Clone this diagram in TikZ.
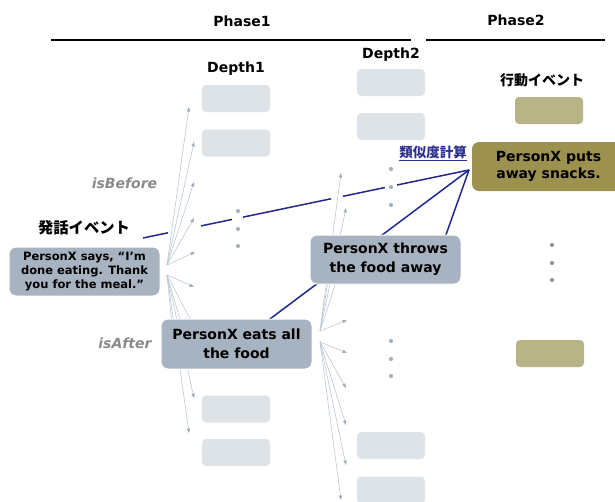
\documentclass[tikz,border=0pt]{standalone}
\usepackage{fontspec}
\setmainfont{DejaVu Sans}
\newfontfamily\jp{Noto Sans CJK JP}
\usetikzlibrary{arrows.meta,calc}
\definecolor{lgray}{HTML}{DEE3E8}
\definecolor{ngray}{HTML}{A7B3C0}
\definecolor{oliveD}{HTML}{9D9150}
\definecolor{oliveL}{HTML}{B9B388}
\definecolor{navy}{HTML}{1F2A8C}
\definecolor{bluetxt}{HTML}{2B2E8F}
\definecolor{fanc}{HTML}{BDC7D2}
\definecolor{fanh}{HTML}{9FABBA}
\definecolor{dotc}{HTML}{A8B2BD}
\definecolor{dotd}{HTML}{8F959B}
\definecolor{lbl}{HTML}{8A8A8A}
\begin{document}
\begin{tikzpicture}[x=1pt,y=-1pt,
  lightbox/.style={fill=lgray, rounded corners=4pt, minimum width=68pt, minimum height=27pt, inner sep=0pt},
  olivebox/.style={fill=oliveL, rounded corners=4pt, minimum width=68pt, minimum height=27pt, inner sep=0pt},
  event/.style={fill=ngray, draw=white, line width=1pt, rounded corners=7pt, align=center, inner sep=0pt,
    font=\bfseries\fontsize{14}{19}\selectfont},
  fan/.style={draw=fanc, line width=0.6pt, -{Triangle[length=4.5pt,width=3.2pt,color=fanh]}},
  blueline/.style={draw=navy, line width=1.5pt},
  dot/.style={circle, fill=dotc, minimum size=4.2pt, inner sep=0pt},
  ddot/.style={circle, fill=dotd, minimum size=4.2pt, inner sep=0pt},
  head/.style={font=\bfseries\fontsize{14}{16}\selectfont},
  jphead/.style={font=\jp\bfseries\fontsize{14}{16}\selectfont},
  rel/.style={font=\bfseries\itshape\fontsize{14}{16}\selectfont, text=lbl}
]
\useasboundingbox (0,0) rectangle (615,501);

% headers
\node[head] (ph1) at (242,21) {Phase1};
\node[head] (ph2) at (516,20) {Phase2};
\coordinate (r1a) at (51,40); \coordinate (r1b) at (411,40);
\coordinate (r2a) at (426,40); \coordinate (r2b) at (605,40);
\draw[line width=1.2pt] (r1a) -- (r1b);
\draw[line width=1.2pt] (r2a) -- (r2b);
\node[head] (dp1) at (236,69) {Depth1};
\node[head] (dp2) at (391,55) {Depth2};
\node[jphead] (act) at (542,80) {行動イベント};

% light boxes
\node[lightbox] (a1) at (236,98.5) {};
\node[lightbox] (a2) at (236,143) {};
\node[lightbox] (a3) at (236,409) {};
\node[lightbox] (a4) at (236,452.5) {};
\node[lightbox] (b1) at (391,82.5) {};
\node[lightbox] (b2) at (391,126.5) {};
\node[lightbox] (b3) at (391,445.5) {};
\node[lightbox] (b4) at (391,490) {};
\node[olivebox] (c1) at (549,110.5) {};
\node[olivebox] (c2) at (550,353.5) {};

% dots
\node[dot] (d11) at (238,211) {};
\node[dot] (d12) at (238,229) {};
\node[dot] (d13) at (238,246) {};
\node[dot] (d21) at (391,169) {};
\node[dot] (d22) at (391,187) {};
\node[dot] (d23) at (391,205) {};
\node[dot] (d31) at (391,341) {};
\node[dot] (d32) at (391,359) {};
\node[dot] (d33) at (391,376) {};
\node[ddot] (d41) at (552,245) {};
\node[ddot] (d42) at (552,263) {};
\node[ddot] (d43) at (552,280) {};

% fan 1
\coordinate (o1) at (167,265);
\coordinate (o2) at (167,275);
\coordinate (t1) at (189,107);
\coordinate (t2) at (194,142);
\coordinate (t3) at (194,182);
\coordinate (t4) at (194,218);
\coordinate (t5) at (195,252);
\draw[fan] (o1) -- (t1);
\draw[fan] (o1) -- (t2);
\draw[fan] (o1) -- (t3);
\draw[fan] (o1) -- (t4);
\draw[fan] (o1) -- (t5);
\coordinate (u1) at (194,287);
\coordinate (u2) at (174,345);
\coordinate (u3) at (186,340);
\coordinate (u4) at (197,332);
\coordinate (u5) at (194,398);
\coordinate (u6) at (189,433);
\draw[fan] (o2) -- (u1);
\draw[fan] (o2) -- (u2);
\draw[fan] (o2) -- (u3);
\draw[fan] (o2) -- (u4);
\draw[fan] (o2) -- (u5);
\draw[fan] (o2) -- (u6);
% fan 2
\coordinate (o3) at (320,331);
\coordinate (o4) at (320,342);
\coordinate (v1) at (341,173);
\coordinate (v2) at (346,208);
\coordinate (v3) at (331,262);
\coordinate (v4) at (340,270);
\coordinate (v5) at (347,320);
\draw[fan] (o3) -- (v1);
\draw[fan] (o3) -- (v2);
\draw[fan] (o3) -- (v3);
\draw[fan] (o3) -- (v4);
\draw[fan] (o3) -- (v5);
\coordinate (w1) at (347,353);
\coordinate (w2) at (346,388);
\coordinate (w3) at (346,425);
\coordinate (w4) at (346,465);
\coordinate (w5) at (341,500);
\draw[fan] (o4) -- (w1);
\draw[fan] (o4) -- (w2);
\draw[fan] (o4) -- (w3);
\draw[fan] (o4) -- (w4);
\draw[fan] (o4) -- (w5);

% similarity lines
\coordinate (apex) at (469,170);
\coordinate (ls) at (143,238);
\coordinate (lt) at (437,260);
\draw[blueline] (ls) -- ($(ls)!0.0767!(apex)$);
\draw[blueline] ($(ls)!0.178!(apex)$) -- ($(ls)!0.273!(apex)$);
\draw[blueline] ($(ls)!0.307!(apex)$) -- ($(ls)!0.577!(apex)$);
\draw[blueline] ($(ls)!0.613!(apex)$) -- ($(ls)!0.742!(apex)$);
\draw[blueline] ($(ls)!0.779!(apex)$) -- (apex);
\coordinate (le) at (236.5,344);
\draw[blueline] (le) -- (apex);
\draw[blueline] (lt) -- (apex);

% event nodes
\node[event, minimum width=151pt, minimum height=49pt,
  font=\bfseries\fontsize{11.5}{14}\selectfont] (say) at (84.5,271.5)
  {PersonX says, “I’m\\done eating. Thank\\you for the meal.”};
\node[event, minimum width=151pt, minimum height=50pt] (eat) at (236.5,344) {PersonX eats all\\the food};
\node[event, minimum width=151pt, minimum height=49pt] (throw) at (385.5,259.5) {PersonX throws\\the food away};
\node[event, fill=oliveD, draw=none, minimum width=153pt, minimum height=49pt,
  font=\bfseries\fontsize{14}{17}\selectfont] (snack) at (548.5,166.5) {PersonX puts\\away snacks.};

% labels
\node[font=\jp\bfseries\fontsize{15.3}{17}\selectfont] (utt) at (84,228) {発話イベント};
\node[rel] (isb) at (124.5,183) {isBefore};
\node[rel] (isa) at (125,343) {isAfter};
\node[font=\jp\bfseries\fontsize{13.5}{15}\selectfont, text=bluetxt] (sim) at (433,153) {\underline{類似度計算}};
\end{tikzpicture}
\end{document}
